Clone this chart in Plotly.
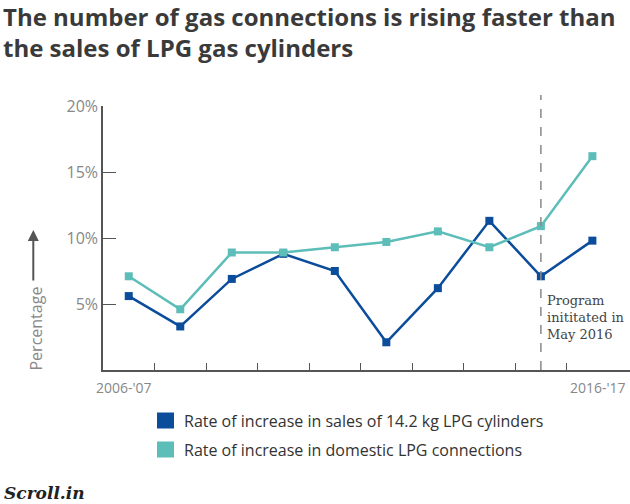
import plotly.graph_objects as go

# ---- data ----
periods = list(range(10))          # yearly points, first = 2006-'07
sales_growth = [5.6, 3.3, 6.9, 8.8, 7.5, 2.1, 6.2, 11.3, 7.1, 9.8]
connections_growth = [7.1, 4.6, 8.9, 8.9, 9.3, 9.7, 10.5, 9.3, 10.9, 16.2]
y_ticks = [5, 10, 15, 20]
y_labels = ["5%", "10%", "15%", "20%"]
first_label, last_label = "2006-'07", "2016-'17"
program_start = 8  # point at which the programme began (May 2016)

series_names = ["Rate of increase in sales of 14.2 kg LPG cylinders",
                "Rate of increase in domestic LPG connections"]
dark_blue = "#0b4c9b"
teal = "#5dbdb8"

W, H = 630, 504
L, R, T, B = 103, 0, 106, 134
PW, PH = W - L - R, H - T - B


def px(x):
    return (x - L) / PW


def py(y):
    return (H - B - y) / PH


fig = go.Figure()
fig.add_trace(go.Scatter(x=periods, y=sales_growth, mode="lines+markers",
                         line=dict(color=dark_blue, width=2.5),
                         marker=dict(symbol="square", size=8, color=dark_blue),
                         name=series_names[0], showlegend=False, cliponaxis=False))
fig.add_trace(go.Scatter(x=periods, y=connections_growth, mode="lines+markers",
                         line=dict(color=teal, width=2.5),
                         marker=dict(symbol="square", size=8, color=teal),
                         name=series_names[1], showlegend=False, cliponaxis=False))

x_tickvals = [p + 0.5 for p in periods[:-1]]

fig.update_layout(
    width=W, height=H,
    margin=dict(l=L, r=R, t=T, b=B),
    paper_bgcolor="white", plot_bgcolor="white",
    font=dict(family="Open Sans", color="#888"),
    xaxis=dict(range=[-0.5, 9.73], showgrid=False, zeroline=False,
               showline=True, linecolor="#555", linewidth=1.5,
               ticks="inside", ticklen=7, tickcolor="#555", tickwidth=1.2,
               tickvals=x_tickvals, showticklabels=False),
    yaxis=dict(range=[0, 20], showgrid=False, zeroline=False,
               showline=True, linecolor="#555", linewidth=1.5,
               ticks="inside", ticklen=13, tickcolor="#555", tickwidth=1.2,
               tickvals=y_ticks, ticktext=y_labels,
               tickfont=dict(size=16, color="#888")),
)

# title
fig.add_annotation(xref="paper", yref="paper", x=px(1), y=py(-2),
                   xanchor="left", yanchor="top", showarrow=False, align="left",
                   text="<b>The number of gas connections is rising faster than<br>the sales of LPG gas cylinders</b>",
                   font=dict(family="Open Sans", size=24, color="#3a3a3a"))

# dashed marker for program start
fig.add_shape(type="line", xref="x", yref="paper",
              x0=program_start, x1=program_start, y0=0, y1=py(95),
              line=dict(color="#888", width=1.5, dash="dash"))
fig.add_annotation(xref="paper", yref="paper", x=px(545), y=py(291),
                   xanchor="left", yanchor="top", showarrow=False, align="left",
                   text="Program<br>inititated in<br>May 2016",
                   font=dict(family="DejaVu Serif", size=13, color="#444"))

# x labels
fig.add_annotation(xref="paper", yref="paper", x=px(94), y=py(376),
                   xanchor="left", yanchor="top", showarrow=False,
                   text=first_label, font=dict(size=14, color="#888"))
fig.add_annotation(xref="paper", yref="paper", x=px(628), y=py(376),
                   xanchor="right", yanchor="top", showarrow=False,
                   text=last_label, font=dict(size=14, color="#888"))

# y title with arrow
fig.add_annotation(xref="paper", yref="paper", x=px(35.5), y=py(329),
                   xanchor="center", yanchor="middle",
                   showarrow=False, textangle=-90, text="Percentage",
                   font=dict(size=16, color="#888"))
fig.add_annotation(xref="paper", yref="paper", x=px(33.3), y=py(230),
                   ax=0, ay=52, axref="pixel", ayref="pixel",
                   text="", showarrow=True, arrowhead=2, arrowsize=1.1,
                   arrowwidth=2, arrowcolor="#555")

# legend
for i, (name, col) in enumerate(zip(series_names, [dark_blue, teal])):
    cy = 420.5 + 29 * i
    fig.add_shape(type="rect", xref="paper", yref="paper",
                  x0=px(157), x1=px(174), y0=py(cy + 8), y1=py(cy - 8),
                  fillcolor=col, line=dict(width=0))
    fig.add_annotation(xref="paper", yref="paper", x=px(182), y=py(cy),
                       xanchor="left", yanchor="middle", showarrow=False,
                       text=name, font=dict(size=16, color="#333"))

# logo
fig.add_annotation(xref="paper", yref="paper", x=px(2), y=py(493),
                   xanchor="left", yanchor="middle", showarrow=False,
                   text="<b><i>Scroll.in</i></b>",
                   font=dict(family="DejaVu Serif", size=17, color="#222"))

fig.write_html("out.html")
